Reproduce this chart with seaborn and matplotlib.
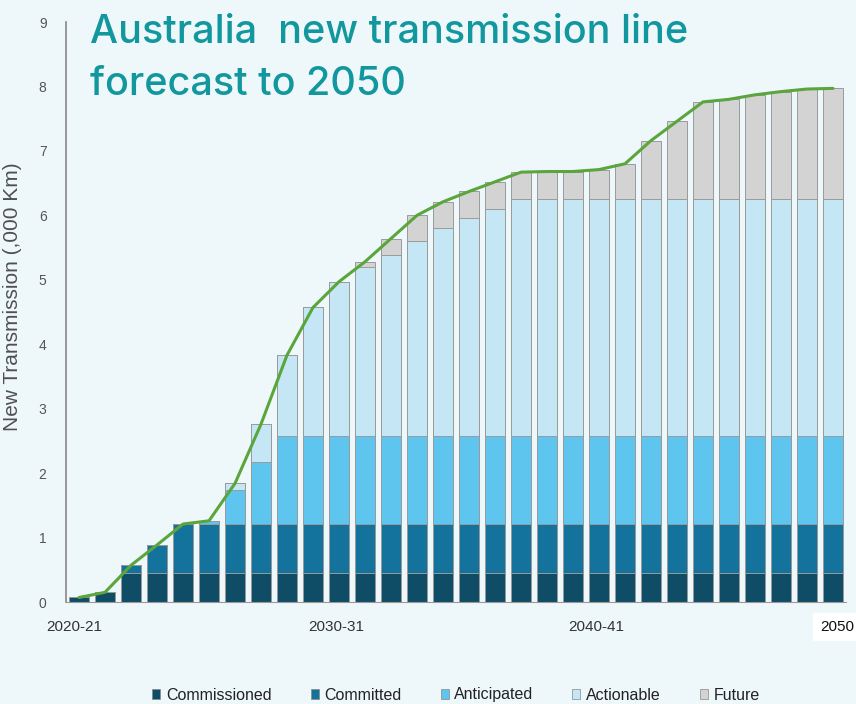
import numpy as np
import pandas as pd
import matplotlib
matplotlib.use("Agg")
import matplotlib.pyplot as plt
from matplotlib.patches import Patch
import seaborn as sns

# ---------------- data ----------------
years = [f"{y}-{str(y + 1)[-2:]}" for y in range(2020, 2050)]

commissioned = [0.07, 0.15] + [0.45] * 28
committed = [0.0, 0.0, 0.12, 0.435, 0.76] + [0.76] * 25
anticipated = [0.0, 0.0, 0.0, 0.0, 0.0, 0.05, 0.53, 0.97] + [1.37] * 22
actionable = [0.0, 0.0, 0.0, 0.0, 0.0, 0.0, 0.10, 0.58, 1.25, 1.99, 2.39, 2.62,
              2.80, 3.02, 3.23, 3.38, 3.52] + [3.68] * 13
future = [0.0] * 11 + [0.08, 0.26, 0.40, 0.40, 0.41, 0.42, 0.41, 0.42, 0.42,
                       0.45, 0.54, 0.90, 1.20, 1.50, 1.54, 1.61, 1.66, 1.70, 1.71]

series_names = ["Commissioned", "Committed", "Anticipated", "Actionable", "Future"]
series_vals = [commissioned, committed, anticipated, actionable, future]
colors = ["#0f4c66", "#14739c", "#5ec5ef", "#c4e6f5", "#d3d3d3"]

x_tick_labels = ["2020-21", "2030-31", "2040-41", "2050"]
title_lines = ["Australia  new transmission line", "forecast to 2050"]

# ---------------- figure ----------------
sns.set_style("white")
plt.rcParams["font.family"] = ["Liberation Sans", "DejaVu Sans"]

bg = "#eef8fb"
fig = plt.figure(figsize=(8.56, 7.04), dpi=100, facecolor=bg)
ax = fig.add_axes([66 / 856, 1 - 602 / 704, 780 / 856, 580 / 704])
ax.set_facecolor(bg)

cum = np.zeros(len(years))
cums = []
for v in series_vals:
    cum = cum + np.array(v)
    cums.append(cum.copy())
totals = cums[-1]

# draw cumulative layers from the top down
for name, c, col in reversed(list(zip(series_names, cums, colors))):
    sns.barplot(x=years, y=c, color=col, ax=ax, width=0.77, saturation=1,
                edgecolor="#9a9a9a", linewidth=0.7, order=years)

# total line
sns.lineplot(x=np.arange(len(years)), y=totals, ax=ax, color="#5aa53c",
             linewidth=2.2, zorder=5)

ax.set_xlim(-0.5, len(years) - 0.5)
ax.set_ylim(0, 9)
ax.set_yticks(range(0, 10))
ax.set_yticklabels([str(i) for i in range(0, 10)], fontsize=10, color="#555555")
ax.tick_params(axis="y", length=0, pad=14)

# x ticks at slot boundaries every 2 bars
bounds = np.arange(-0.5, len(years), 2)
ax.set_xticks(bounds, minor=True)
ax.set_xticks([-0.2, 9.9, 19.9, 29.15])
ax.set_xticklabels(x_tick_labels, fontsize=11, color="#333333")
ax.tick_params(axis="x", which="major", length=0, pad=13)
ax.tick_params(axis="x", which="minor", length=5, color="#999999", width=1)
lbls = ax.get_xticklabels()
lbls[-1].set_bbox(dict(facecolor="white", edgecolor="none", pad=5))
lbls[-1].set_color("#111111")

for s in ["top", "right"]:
    ax.spines[s].set_visible(False)
ax.spines["left"].set_color("#888888")
ax.spines["bottom"].set_color("#999999")
ax.spines["left"].set_linewidth(1.2)

ax.set_xlabel("")
ax.set_ylabel("New Transmission (,000 Km)", fontsize=15, color="#505050",
              labelpad=10)
ax.yaxis.set_label_coords(-0.057, 0.527)

# title inside the plot (two lines)
for line, ybase in zip(title_lines, [43, 95]):
    fig.text(90 / 856, 1 - ybase / 704, line, fontsize=28.5, color="#12979f",
             family=["Inter", "DejaVu Sans"], fontweight=500,
             va="baseline", ha="left")

handles = [Patch(facecolor=c, edgecolor="#888888", linewidth=0.5) for c in colors]
fig.legend(handles, series_names, loc="center", bbox_to_anchor=(456 / 856, 9 / 704),
           ncol=5, frameon=False, fontsize=11.5, handlelength=0.5,
           handleheight=0.6, handletextpad=0.35, columnspacing=2.45,
           labelcolor="#222222")

fig.savefig("out.png", dpi=100, facecolor=bg)
